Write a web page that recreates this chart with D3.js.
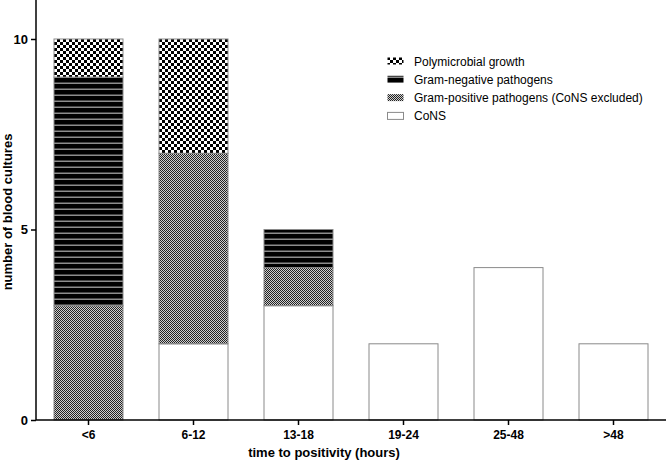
<!DOCTYPE html>
<html><head><meta charset="utf-8">
<script src="https://cdn.jsdelivr.net/npm/d3@7"></script>
<style>body{margin:0;background:#fff}svg{display:block;font-family:Arial,"Liberation Sans",sans-serif}</style>
</head><body><svg id="c" width="666" height="462"></svg>
<script>
const categories = ["<6","6-12","13-18","19-24","25-48",">48"];
const seriesNames = ["CoNS","Gram-positive pathogens (CoNS excluded)","Gram-negative pathogens","Polymicrobial growth"];
const cons    = [0,2,3,2,4,2];
const gramPos = [3,5,1,0,0,0];
const gramNeg = [6,0,1,0,0,0];
const poly    = [1,3,0,0,0,0];
const yTicks = [0,5,10];
const xTitle = "time to positivity (hours)";
const yTitle = "number of blood cultures";

const svg = d3.select("#c");
const defs = svg.append("defs");
// patterns
const pPos = defs.append("pattern").attr("id","pPos").attr("patternUnits","userSpaceOnUse").attr("width",2).attr("height",2);
pPos.append("rect").attr("width",2).attr("height",2).attr("fill","#cfcfcf");
pPos.append("rect").attr("width",1).attr("height",1).attr("fill","#222");
pPos.append("rect").attr("x",1).attr("y",1).attr("width",1).attr("height",1).attr("fill","#222");
const pNeg = defs.append("pattern").attr("id","pNeg").attr("patternUnits","userSpaceOnUse").attr("width",6).attr("height",6);
pNeg.append("rect").attr("width",6).attr("height",6).attr("fill","#000");
pNeg.append("rect").attr("y",4.5).attr("width",6).attr("height",1.5).attr("fill","#8c8c8c");
const pPoly = defs.append("pattern").attr("id","pPoly").attr("patternUnits","userSpaceOnUse").attr("width",6).attr("height",6);
pPoly.append("rect").attr("width",6).attr("height",6).attr("fill","#fff");
pPoly.append("rect").attr("width",3).attr("height",3).attr("fill","#000");
pPoly.append("rect").attr("x",3).attr("y",3).attr("width",3).attr("height",3).attr("fill","#000");
const fills = ["#fff","url(#pPos)","url(#pNeg)","url(#pPoly)"];

const x = d3.scaleBand().domain(categories).range([36,666]).paddingInner(1/3).paddingOuter(1/6);
const y = d3.scaleLinear().domain([0,10]).range([420,39]);

const rows = categories.map((c,i)=>({cat:c, CoNS:cons[i], gp:gramPos[i], gn:gramNeg[i], pm:poly[i]}));
const keys = ["CoNS","gp","gn","pm"];
const stacked = d3.stack().keys(keys)(rows);

stacked.forEach((layer,k)=>{
  svg.append("g").selectAll("rect").data(layer.filter(d=>d[1]-d[0]>0)).join("rect")
    .attr("x",d=>x(d.data.cat)+0.5).attr("width",x.bandwidth()-1)
    .attr("y",d=>y(d[1])).attr("height",d=>y(d[0])-y(d[1]))
    .attr("fill",fills[k]).attr("stroke","#8a8a8a").attr("stroke-width",1);
});

// axes
const yAxis = svg.append("g").attr("transform","translate(36,0)")
  .call(d3.axisLeft(y).tickValues(yTicks).tickSize(5).tickPadding(3).tickFormat(d3.format("d")));
yAxis.select(".domain").remove();
svg.append("line").attr("x1",36).attr("x2",36).attr("y1",0).attr("y2",420).attr("stroke","#000").attr("stroke-width",1.5);
yAxis.selectAll(".tick line").attr("stroke-width",1.5);
yAxis.selectAll("text").attr("font-size",13).attr("font-weight","bold").attr("fill","#000");

const xAxis = svg.append("g").attr("transform","translate(0,420)")
  .call(d3.axisBottom(x).tickSize(5).tickPadding(5));
xAxis.select(".domain").remove();
svg.append("line").attr("x1",36).attr("x2",666).attr("y1",420).attr("y2",420).attr("stroke","#000").attr("stroke-width",1.5);
xAxis.selectAll(".tick line").attr("stroke-width",1.5);
xAxis.selectAll("text").attr("font-size",12).attr("font-weight","bold").attr("fill","#000");

svg.append("text").attr("x",324).attr("y",457).attr("text-anchor","middle")
  .attr("font-size",13).attr("font-weight","bold").text(xTitle);
svg.append("text").attr("transform","translate(12,212) rotate(-90)").attr("text-anchor","middle")
  .attr("font-size",13).attr("font-weight","bold").text(yTitle);

// legend
const legendOrder = [3,2,1,0];
const lg = svg.append("g");
legendOrder.forEach((k,i)=>{
  const yy = 61 + i*18.3;
  lg.append("rect").attr("x",387.5).attr("y",yy-3.5).attr("width",16).attr("height",7)
    .attr("fill",fills[k]).attr("stroke", k===0?"#8a8a8a":"none");
  lg.append("text").attr("x",414).attr("y",yy+4.5).attr("font-size",12).attr("fill","#000").text(seriesNames[k]);
});
</script></body></html>
